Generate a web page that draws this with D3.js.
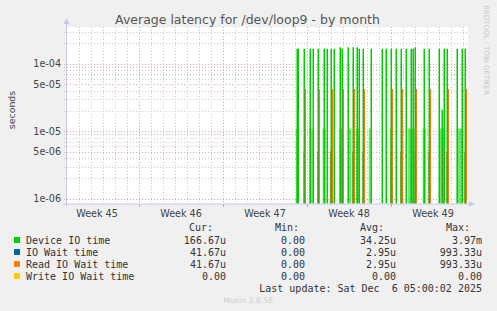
<!DOCTYPE html>
<html>
<head>
<meta charset="utf-8">
<script src="https://cdn.jsdelivr.net/npm/d3@7"></script>
<style>
  body { margin: 0; background: #f0f0f0; }
  svg { display: block; }
</style>
</head>
<body>
<script>
// ---- data (days counted from Mon Nov 3, start of week 45) ----
var deviceDays = [13.17, 13.25, 13.75, 14.27, 14.52, 14.94, 15.44, 15.69, 15.97, 16.27, 16.77, 16.94,
  17.44, 17.86, 18.19, 18.35, 18.69, 19.33, 20.25, 20.61, 21.03, 21.44, 21.86, 22.27, 22.63,
  22.86, 23.03, 23.77, 24.19, 25.03, 25.28, 25.44, 25.69, 26.52, 26.94, 27.19]
var deviceVals = [1.67e-4, 1.67e-4, 1.67e-4, 1.67e-4, 1.67e-4, 1.67e-4, 1.67e-4, 1.67e-4, 1.67e-4, 1.67e-4, 1.75e-4, 1.67e-4,
  1.75e-4, 1.75e-4, 1.75e-4, 1.67e-4, 1.67e-4, 1.67e-4, 1.67e-4, 1.67e-4, 1.67e-4, 1.67e-4, 1.67e-4, 1.67e-4, 1.67e-4,
  1.67e-4, 1.75e-4, 1.67e-4, 1.67e-4, 1.67e-4, 2.1e-5, 1.67e-4, 1.67e-4, 1.67e-4, 1.67e-4, 1.67e-4]
var readDays = [13.75, 14.94, 15.97, 16.94, 17.86, 18.69, 21.03, 21.86, 23.03, 24.19, 25.28, 25.69, 27.19]
var readVals = [4.17e-5, 4.17e-5, 4.17e-5, 4.17e-5, 4.17e-5, 4.17e-5, 4.17e-5, 4.17e-5, 4.17e-5, 4.17e-5, 5.4e-6, 4.17e-5, 4.17e-5]
// faint bands of small values between the spikes
var greenBands = [[13.08, 13.21], [14.19, 14.47], [15.31, 15.58], [16.69, 16.92], [17.47, 17.69], [18.08, 18.36],
  [19.14, 19.31], [20.92, 21.14], [22.42, 22.97], [23.64, 23.92], [25.03, 25.42], [26.47, 26.92]]
var brownBands = [[13.7, 13.8], [14.85, 14.97], [15.9, 16.0], [16.86, 16.97], [17.76, 17.9], [18.6, 18.7],
  [20.95, 21.05], [21.76, 21.9], [22.95, 23.06], [24.1, 24.22], [25.6, 25.72], [27.1, 27.2]]

var weekLabels = ['Week 45', 'Week 46', 'Week 47', 'Week 48', 'Week 49']
var yTicks = [1e-4, 5e-5, 1e-5, 5e-6, 1e-6]
var yTickLabels = ['1e-04', '5e-05', '1e-05', '5e-06', '1e-06']

var legendNames = ['Device IO time', 'IO Wait time', 'Read IO Wait time', 'Write IO Wait time']
var legendColors = ['#00cc00', '#0066b3', '#ff8000', '#ffcc00']
var curVals = ['166.67u', '41.67u', '41.67u', '0.00']
var minVals = ['0.00', '0.00', '0.00', '0.00']
var avgVals = ['34.25u', '2.95u', '2.95u', '0.00']
var maxVals = ['3.97m', '993.33u', '993.33u', '0.00']

var W = 497, H = 311
var pLeft = 67, pRight = 467, pTop = 27, pBottom = 203.5

var svg = d3.select('body').append('svg').attr('width', W).attr('height', H)
svg.append('rect').attr('width', W).attr('height', H).attr('fill', '#f0f0f0')

var x = d3.scaleLinear().domain([-6, 27.333]).range([pLeft, pRight])
var y = d3.scaleLog().domain([0.85e-6, 3.5e-4]).range([pBottom, pTop])

svg.append('rect').attr('x', pLeft - 1).attr('y', pTop).attr('width', pRight - pLeft + 2).attr('height', pBottom - pTop)
  .attr('fill', '#fff')

// grid
var g = svg.append('g')
var minorY = []
;[-6, -5, -4].forEach(function(e) {
  for (var k = 1; k <= 9; k++) {
    var v = k * Math.pow(10, e)
    if (v > y.domain()[0] && v < y.domain()[1]) minorY.push(v)
  }
})
g.selectAll('.hy').data(minorY).enter().append('line')
  .attr('x1', pLeft - 3).attr('x2', pRight)
  .attr('y1', function(d) { return Math.round(y(d)) + 0.5 })
  .attr('y2', function(d) { return Math.round(y(d)) + 0.5 })
  .attr('stroke', function(d) {
    var m = d / Math.pow(10, Math.floor(Math.log10(d) + 1e-9))
    return (Math.abs(m - 1) < 0.01 || Math.abs(m - 5) < 0.01) ? '#e8a0a0' : '#c8c8c8'
  })
  .attr('stroke-dasharray', '1,2')

var days = d3.range(-5, 28)
g.selectAll('.vx').data(days).enter().append('line')
  .attr('y1', pTop).attr('y2', pBottom)
  .attr('x1', function(d) { return Math.round(x(d)) + 0.5 })
  .attr('x2', function(d) { return Math.round(x(d)) + 0.5 })
  .attr('stroke', function(d) { return d % 7 == 0 ? '#e8a0a0' : '#c8c8c8' })
  .attr('stroke-dasharray', '1,2')

// faint bands
svg.selectAll('.gb').data(greenBands).enter().append('rect')
  .attr('x', function(d) { return x(d[0]) }).attr('width', function(d) { return x(d[1]) - x(d[0]) })
  .attr('y', y(1.1e-5)).attr('height', pBottom - y(1.1e-5))
  .attr('fill', '#00cc00').attr('opacity', 0.55)
svg.selectAll('.bb').data(brownBands).enter().append('rect')
  .attr('x', function(d) { return x(d[0]) }).attr('width', function(d) { return x(d[1]) - x(d[0]) })
  .attr('y', y(5e-6)).attr('height', pBottom - y(5e-6))
  .attr('fill', '#b07a2a').attr('opacity', 0.85)

// spikes, snapped to pixel columns
function spikes(days, vals, color, w, dx) {
  svg.append('g').selectAll('line').data(days).enter().append('line')
    .attr('x1', function(d) { return Math.round(x(d)) + dx }).attr('x2', function(d) { return Math.round(x(d)) + dx })
    .attr('y1', pBottom).attr('y2', function(d, i) { return y(vals[i]) })
    .attr('stroke', color).attr('stroke-width', w)
}
spikes(deviceDays, deviceVals, '#00cc00', 1.5, 0.25)
spikes(readDays, readVals, '#0066b3', 1.2, 1.3)
spikes(readDays, readVals, '#ff8000', 1.2, 1.3)

// axes
var axisCol = '#c8c8f0'
svg.append('line').attr('x1', pLeft - 0.5).attr('x2', pLeft - 0.5).attr('y1', 22).attr('y2', pBottom + 3)
  .attr('stroke', axisCol)
svg.append('line').attr('x1', pLeft - 4).attr('x2', pRight + 3).attr('y1', pBottom + 0.5).attr('y2', pBottom + 0.5)
  .attr('stroke', axisCol)
svg.append('path').attr('d', 'M' + (pLeft - 3.5) + ',24 L' + (pLeft - 0.5) + ',18 L' + (pLeft + 2.5) + ',24 Z').attr('fill', axisCol)
svg.append('path').attr('d', 'M' + (pRight + 2) + ',' + (pBottom - 2.5) + ' L' + (pRight + 8) + ',' + (pBottom + 0.5) +
  ' L' + (pRight + 2) + ',' + (pBottom + 3.5) + ' Z').attr('fill', axisCol)

// week ticks below axis
svg.selectAll('.wt').data([0, 7, 14, 21]).enter().append('line')
  .attr('x1', function(d) { return Math.round(x(d)) + 0.5 }).attr('x2', function(d) { return Math.round(x(d)) + 0.5 })
  .attr('y1', pBottom + 1).attr('y2', pBottom + 3).attr('stroke', '#e08080')

var txt = '#444'
svg.selectAll('.wl').data(weekLabels).enter().append('text')
  .attr('x', function(d, i) { return x(i * 7 - 3.5) }).attr('y', 217)
  .attr('text-anchor', 'middle').attr('font-family', 'DejaVu Sans').attr('font-size', '9.6px')
  .attr('fill', txt).text(function(d) { return d })

svg.selectAll('.yl').data(yTicks).enter().append('text')
  .attr('x', 61).attr('y', function(d) { return y(d) + 3.5 })
  .attr('text-anchor', 'end').attr('font-family', 'DejaVu Sans').attr('font-size', '9.6px')
  .attr('fill', txt).text(function(d, i) { return yTickLabels[i] })

svg.append('text').attr('transform', 'translate(15,110) rotate(-90)')
  .attr('text-anchor', 'middle').attr('font-family', 'DejaVu Sans').attr('font-size', '9.4px')
  .attr('fill', txt).text('seconds')

svg.append('text').attr('x', 247.5).attr('y', 24).attr('text-anchor', 'middle')
  .attr('font-family', 'DejaVu Sans').attr('font-size', '12.5px').attr('fill', '#555')
  .text('Average latency for /dev/loop9 - by month')

svg.append('text').attr('transform', 'translate(484,5) rotate(90)')
  .attr('font-family', 'DejaVu Sans').attr('font-size', '7px').attr('fill', '#c8c8c8')
  .text('RRDTOOL / TOBI OETIKER')

// legend
var mono = 'DejaVu Sans Mono'
var heads = [['Cur:', 213], ['Min:', 299], ['Avg:', 384], ['Max:', 470]]
heads.forEach(function(h) {
  svg.append('text').attr('x', h[1]).attr('y', 231).attr('text-anchor', 'end')
    .attr('font-family', mono).attr('font-size', '10px').attr('fill', '#333').text(h[0])
})
var cols = [[curVals, 226], [minVals, 305], [avgVals, 396], [maxVals, 482]]
legendNames.forEach(function(n, i) {
  var yy = 240 + i * 12
  svg.append('rect').attr('x', 14).attr('y', yy - 3).attr('width', 6).attr('height', 6).attr('fill', legendColors[i])
  svg.append('text').attr('x', 26).attr('y', yy + 3.5).attr('font-family', mono).attr('font-size', '10px')
    .attr('fill', '#333').text(n)
  cols.forEach(function(c) {
    svg.append('text').attr('x', c[1]).attr('y', yy + 3.5).attr('text-anchor', 'end')
      .attr('font-family', mono).attr('font-size', '10px').attr('fill', '#333').text(c[0][i])
  })
})
svg.append('text').attr('x', 482).attr('y', 291.5).attr('text-anchor', 'end')
  .attr('font-family', mono).attr('font-size', '10px').attr('fill', '#333')
  .attr('xml:space', 'preserve').style('white-space', 'pre')
  .text('Last update: Sat Dec  6 05:00:02 2025')
svg.append('text').attr('x', 248).attr('y', 302.5).attr('text-anchor', 'middle')
  .attr('font-family', 'DejaVu Sans').attr('font-size', '7.6px').attr('fill', '#ccc').text('Munin 2.0.56')
</script>
</body>
</html>
